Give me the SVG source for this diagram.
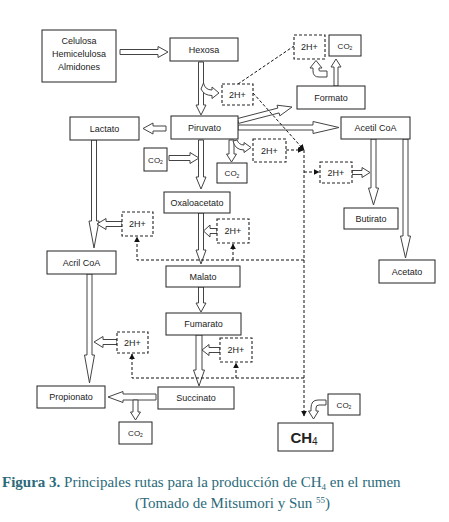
<svg xmlns="http://www.w3.org/2000/svg" width="449" height="522" viewBox="0 0 449 522">
<defs>
<marker id="ah" viewBox="0 0 10 10" refX="9" refY="5" markerWidth="6" markerHeight="6" orient="auto" markerUnits="userSpaceOnUse"><path d="M0,0 L10,5 L0,10 Z" fill="#111"/></marker>
</defs>
<style>
.box{fill:#fff;stroke:#222;stroke-width:1}
.dbox{fill:#fff;stroke:#222;stroke-width:1.1;stroke-dasharray:3,2}
.t{font-family:"Liberation Sans",Arial,sans-serif;font-size:9px;fill:#222;text-anchor:middle}
.s{font-size:8px}
.ha{fill:#fff;stroke:#444;stroke-width:1;stroke-linejoin:miter}
.dl{fill:none;stroke:#111;stroke-width:1;stroke-dasharray:3,2}
.cap{font-family:"Liberation Serif","Times New Roman",serif;font-size:15px;fill:#2b6a7a}
</style>
<rect width="449" height="522" fill="#fff"/>
<g id="connectors">
<path class="ha" d="M120,49.5 L158,49.5 L158,46.5 L168,52 L158,57.5 L158,54.5 L120,54.5 Z"/>
<path class="ha" d="M198.5,62 L198.5,105 L196,105 L201,115 L206,105 L203.5,105 L203.5,62 Z"/>
<path class="ha" d="M203.5,83 Q205,90 212,90 L212,87 L219,93 L212,98.5 L212,95.5 Q204,95.5 201,89 Z"/>
<path class="ha" d="M166,126 L153,126 L153,123 L143,128.5 L153,134 L153,131 L166,131 Z"/>
<path class="ha" d="M198.5,140 L198.5,177 L196,177 L201,189 L206,177 L203.5,177 L203.5,140 Z"/>
<path class="ha" d="M169,155.5 L190,155.5 L190,152.5 L199,158 L190,163.5 L190,160.5 L169,160.5 Z"/>
<path class="ha" d="M229,140 L229,154 L226.5,154 L231.5,162 L236.5,154 L234,154 L234,140 Z"/>
<path class="ha" d="M237,140 Q239,145 244,145 L244,142.5 L251,147.5 L244,152.5 L244,150 Q235,150 233,141 Z"/>
<path class="ha" d="M237.37,118.58 L277.82,108.09 L277.07,105.19 L292,107 L279.83,115.83 L279.08,112.93 L238.63,123.42 Z"/>
<path class="ha" d="M238,125 L313,125 L313,121.5 L339,127.5 L313,133.5 L313,130 L238,130 Z"/>
<path class="ha" d="M334,86 L334,67 L331,67 L336,59 L341,67 L338,67 L338,86 Z"/>
<path class="ha" d="M327,77 L319,77 Q313,77 313,71 L313,68 L310,68 L316,60.5 L322,68 L319,68 L319,70 Q319,71 320,71 L327,71 Z"/>
<path class="ha" d="M371,139 L371,188 L368.5,188 L373.5,205 L378.5,188 L376,188 L376,139 Z"/>
<path class="ha" d="M403,139 L403,236 L400.5,236 L405.5,258 L410.5,236 L408,236 L408,139 Z"/>
<path class="ha" d="M352,170.5 L362,170.5 L362,167.5 L370,172.5 L362,177.5 L362,174.5 L352,174.5 Z"/>
<path class="ha" d="M91.5,140 L91.5,221 L89,221 L94,248 L99,221 L96.5,221 L96.5,140 Z"/>
<path class="ha" d="M122,221.5 L106,221.5 L106,218.5 L97,224 L106,229.5 L106,226.5 L122,226.5 Z"/>
<path class="ha" d="M198.5,213 L198.5,250 L196,250 L201,264 L206,250 L203.5,250 L203.5,213 Z"/>
<path class="ha" d="M217,228.5 L210,228.5 L210,225 L203.5,231 L210,237 L210,233.5 L217,233.5 Z"/>
<path class="ha" d="M198.5,287 L198.5,303 L196,303 L201,312 L206,303 L203.5,303 L203.5,287 Z"/>
<path class="ha" d="M196,335 L196,370 L193.5,370 L199,386 L204.5,370 L202,370 L202,335 Z"/>
<path class="ha" d="M220,347.5 L209,347.5 L209,344.5 L202,350 L209,355.5 L209,352.5 L220,352.5 Z"/>
<path class="ha" d="M87,274 L87,355 L84.5,355 L89.5,383 L94.5,355 L92,355 L92,274 Z"/>
<path class="ha" d="M117,339.5 L103,339.5 L103,336.5 L94,342 L103,347.5 L103,344.5 L117,344.5 Z"/>
<path class="ha" d="M156,394 L123,394 L123,391.5 L108,397 L123,402.5 L123,400 L156,400 Z"/>
<path class="ha" d="M133,400 L133,412 L130.5,412 L135.5,420 L140.5,412 L138,412 L138,400 Z"/>
<path class="ha" d="M326,400 L318,400 Q311,400 311,408 L311,411 L308.5,411 L313.5,419 L318.5,411 L316,411 L316,408 Q316,405 319,405 L326,405 Z"/>
<path class="dl" d="M238,84 L294,46"/>
<path class="dl" d="M253,93 L304,150" marker-end="url(#ah)"/>
<path class="dl" d="M286,150 L303,150" marker-end="url(#ah)"/>
<path class="dl" d="M304,150 L304,416" marker-end="url(#ah)"/>
<path class="dl" d="M304,172 L319,172" marker-end="url(#ah)"/>
<path class="dl" d="M304,260 L137,260 L137,237" marker-end="url(#ah)"/>
<path class="dl" d="M233,260 L233,244" marker-end="url(#ah)"/>
<path class="dl" d="M304,378 L132,378 L132,354" marker-end="url(#ah)"/>
<path class="dl" d="M236,378 L236,363" marker-end="url(#ah)"/>
</g>
<g id="celulosa"><rect class="box" x="42" y="30" width="74" height="52"/><text class="t" x="79" y="44">Celulosa</text><text class="t" x="79" y="57">Hemicelulosa</text><text class="t" x="79" y="70">Almidones</text></g>
<g id="hexosa"><rect class="box" x="170" y="38" width="68" height="23"/><text class="t" x="204" y="52.5">Hexosa</text></g>
<g id="lactato"><rect class="box" x="70" y="117" width="69" height="23"/><text class="t" x="104.5" y="131.5">Lactato</text></g>
<g id="piruvato"><rect class="box" x="171" y="116" width="67" height="23"/><text class="t" x="204.5" y="130.5">Piruvato</text></g>
<g id="formato"><rect class="box" x="297" y="86" width="68" height="23"/><text class="t" x="331" y="100.5">Formato</text></g>
<g id="acetilcoa"><rect class="box" x="341" y="117" width="69" height="22"/><text class="t" x="375.5" y="131">Acetil CoA</text></g>
<g id="h2a"><rect class="dbox" x="222" y="84" width="31" height="21"/><text class="t" x="237.5" y="98">2H+</text></g>
<g id="h2top"><rect class="dbox" x="294" y="35" width="31" height="24"/><text class="t" x="309.5" y="50">2H+</text></g>
<g id="co2top"><rect class="box" x="329" y="35" width="32" height="21"/><text class="t s" x="345" y="48.5">CO<tspan font-size="5" dy="1.5">2</tspan></text></g>
<g id="co2left"><rect class="box" x="144" y="148" width="23" height="23"/><text class="t s" x="155.5" y="162.5">CO<tspan font-size="5" dy="1.5">2</tspan></text></g>
<g id="co2mid"><rect class="box" x="217" y="163" width="30" height="20"/><text class="t s" x="232" y="176">CO<tspan font-size="5" dy="1.5">2</tspan></text></g>
<g id="h2b"><rect class="dbox" x="253" y="139" width="33" height="23"/><text class="t" x="269.5" y="153.5">2H+</text></g>
<g id="h2c"><rect class="dbox" x="320" y="162" width="32" height="21"/><text class="t" x="336" y="175.5">2H+</text></g>
<g id="butirato"><rect class="box" x="344" y="208" width="54" height="21"/><text class="t" x="371" y="221.5">Butirato</text></g>
<g id="acetato"><rect class="box" x="379" y="260" width="56" height="23"/><text class="t" x="407" y="274.5">Acetato</text></g>
<g id="oxaloacetato"><rect class="box" x="164" y="192" width="66" height="21"/><text class="t" x="197" y="205.5">Oxaloacetato</text></g>
<g id="h2d"><rect class="dbox" x="122" y="212" width="31" height="24"/><text class="t" x="137.5" y="227">2H+</text></g>
<g id="h2e"><rect class="dbox" x="217" y="219" width="32" height="24"/><text class="t" x="233" y="234">2H+</text></g>
<g id="acrilcoa"><rect class="box" x="47" y="251" width="69" height="23"/><text class="t" x="81.5" y="265.5">Acril CoA</text></g>
<g id="malato"><rect class="box" x="166" y="266" width="74" height="21"/><text class="t" x="203" y="279.5">Malato</text></g>
<g id="fumarato"><rect class="box" x="166" y="313" width="75" height="22"/><text class="t" x="203.5" y="327">Fumarato</text></g>
<g id="h2f"><rect class="dbox" x="220" y="338" width="32" height="24"/><text class="t" x="236" y="353">2H+</text></g>
<g id="h2g"><rect class="dbox" x="117" y="332" width="31" height="21"/><text class="t" x="132.5" y="345.5">2H+</text></g>
<g id="propionato"><rect class="box" x="37" y="386" width="68" height="22"/><text class="t" x="71" y="400">Propionato</text></g>
<g id="succinato"><rect class="box" x="158" y="387" width="76" height="22"/><text class="t" x="196" y="401">Succinato</text></g>
<g id="co2bottom"><rect class="box" x="119" y="422" width="33" height="22"/><text class="t s" x="135.5" y="435.5">CO<tspan font-size="5" dy="1.5">2</tspan></text></g>
<g id="co2right"><rect class="box" x="328" y="394" width="32" height="21"/><text class="t s" x="344" y="407.5">CO<tspan font-size="5" dy="1.5">2</tspan></text></g>
<g id="ch4"><rect class="box" x="278" y="423" width="55" height="28"/><text class="t" x="304" y="443" style="font-size:15px;font-weight:bold">CH<tspan style="font-size:10px;font-weight:normal" dy="2">4</tspan></text></g>
<g id="caption">
<text class="cap" x="2" y="487"><tspan font-weight="bold">Figura 3.</tspan> Principales rutas para la producción de CH<tspan font-size="9" dy="3">4</tspan><tspan dy="-3"> en el rumen</tspan></text>
<text class="cap" x="135" y="508">(Tomado de Mitsumori y Sun <tspan font-size="9" dy="-5">55</tspan><tspan dy="5">)</tspan></text>
</g>
</svg>
